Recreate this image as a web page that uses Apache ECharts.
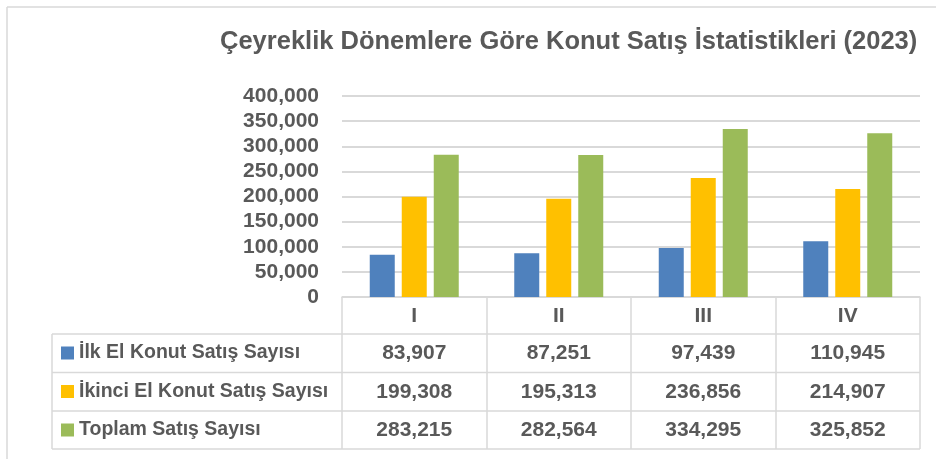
<!DOCTYPE html>
<html>
<head>
<meta charset="utf-8">
<script src="https://cdn.jsdelivr.net/npm/echarts@6/dist/echarts.min.js"></script>
<style>
  html, body { margin: 0; padding: 0; background: #fff; }
  #main { width: 936px; height: 459px; }
</style>
</head>
<body>
<div id="main"></div>
<script>
var categories = ['I', 'II', 'III', 'IV'];
var seriesNames = ['İlk El Konut Satış Sayısı', 'İkinci El Konut Satış Sayısı', 'Toplam Satış Sayısı'];
var ilkEl = [83907, 87251, 97439, 110945];
var ikinciEl = [199308, 195313, 236856, 214907];
var toplam = [283215, 282564, 334295, 325852];
var colors = ['#4F81BD', '#FFC000', '#9BBB59'];

var allValues = [ilkEl, ikinciEl, toplam];
var FONT = "'Liberation Sans', Arial, sans-serif";
var TXT = '#595959';
var LINE = '#D9D9D9';

function fmt(v) {
    return String(v).replace(/\B(?=(\d{3})+(?!\d))/g, ',');
}

var chartDom = document.getElementById('main');
var myChart = echarts.init(chartDom);
var option;

// one hidden-line x axis per table row, labels are the values
var rowOffsets = [56.5, 95, 133];
var xAxes = [{
    type: 'category',
    data: categories,
    position: 'bottom',
    axisLine: { lineStyle: { color: LINE, width: 1.5 } },
    axisTick: { show: true, length: 152, interval: 0, lineStyle: { color: LINE, width: 1.5 } },
    axisLabel: { margin: 19, verticalAlign: 'middle', color: TXT, fontSize: 21, fontWeight: 'bold', fontFamily: FONT }
}];
allValues.forEach(function (vals, r) {
    xAxes.push({
        type: 'category',
        data: categories,
        position: 'bottom',
        offset: rowOffsets[r],
        axisLine: { show: false },
        axisTick: { show: false },
        axisLabel: {
            margin: 0,
            verticalAlign: 'middle',
            color: TXT, fontSize: 21, fontWeight: 'bold', fontFamily: FONT,
            formatter: function (v, i) { return fmt(vals[i]); }
        }
    });
});

option = {
    color: colors,
    animation: false,
    title: {
        text: 'Çeyreklik Dönemlere Göre Konut Satış İstatistikleri (2023)',
        left: 215,
        top: 24,
        textStyle: { color: TXT, fontSize: 25.5, fontWeight: 'bold', fontFamily: FONT }
    },
    legend: {
        orient: 'vertical',
        left: 61,
        top: 343,
        padding: 0,
        itemWidth: 13,
        itemHeight: 13,
        itemGap: 18.5,
        icon: 'rect',
        selectedMode: false,
        textStyle: { color: TXT, fontSize: 19.5, lineHeight: 20, fontWeight: 'bold', fontFamily: FONT }
    },
    grid: { left: 342, right: 16, top: 96, bottom: 162 },
    xAxis: xAxes,
    yAxis: {
        type: 'value',
        min: 0,
        max: 400000,
        interval: 50000,
        axisLine: { show: false },
        axisTick: { show: false },
        splitLine: { lineStyle: { color: LINE, width: 2 } },
        axisLabel: {
            margin: 23,
            color: TXT, fontSize: 21, fontWeight: 'bold', fontFamily: FONT,
            formatter: function (v) { return fmt(v); }
        }
    },
    series: allValues.map(function (vals, i) {
        return {
            name: seriesNames[i],
            type: 'bar',
            data: vals,
            barWidth: 25,
            barGap: '28%',
            xAxisIndex: 0
        };
    }),
    graphic: {
        elements: [
            // outer chart border (top, left)
            { type: 'line', shape: { x1: 7, y1: 7, x2: 936, y2: 7 }, style: { stroke: LINE, lineWidth: 1.5 } },
            { type: 'line', shape: { x1: 7, y1: 7, x2: 7, y2: 459 }, style: { stroke: LINE, lineWidth: 1.5 } },
            // data table rules
            { type: 'line', shape: { x1: 52, y1: 334, x2: 920, y2: 334 }, style: { stroke: LINE, lineWidth: 1.5 } },
            { type: 'line', shape: { x1: 52, y1: 372.5, x2: 920, y2: 372.5 }, style: { stroke: LINE, lineWidth: 1.5 } },
            { type: 'line', shape: { x1: 52, y1: 411, x2: 920, y2: 411 }, style: { stroke: LINE, lineWidth: 1.5 } },
            { type: 'line', shape: { x1: 52, y1: 449, x2: 920, y2: 449 }, style: { stroke: LINE, lineWidth: 1.5 } },
            { type: 'line', shape: { x1: 52, y1: 334, x2: 52, y2: 449 }, style: { stroke: LINE, lineWidth: 1.5 } }
        ]
    }
};

option && myChart.setOption(option);
</script>
</body>
</html>
